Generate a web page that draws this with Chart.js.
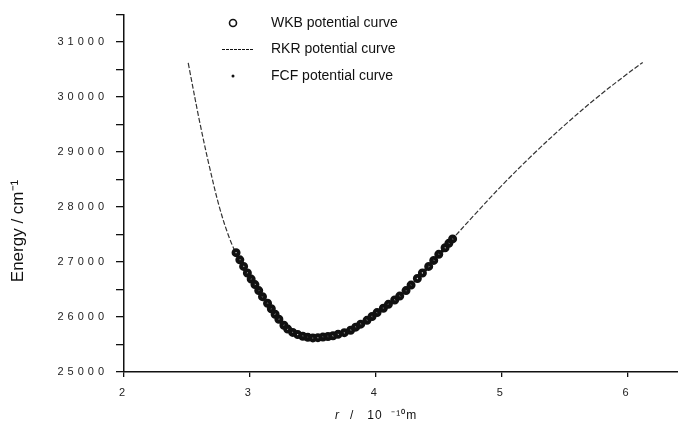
<!DOCTYPE html>
<html>
<head>
  <title>Potential curves</title>
  <style>
    body { margin: 0; background: #fff; }
    #wrap { width: 678px; height: 433px; }
  </style>
</head>
<body>
  <div id="wrap">
    <canvas id="chart" width="678" height="433"></canvas>
  </div>

  <script src="https://cdn.jsdelivr.net/npm/chart.js"></script>
  <script>
    // values (r in 1e-10 m, energy in cm-1)
    const rkrR = [2.51, 2.60, 2.68, 2.76, 2.84, 2.92, 3.01, 3.14, 3.27, 3.38, 3.50, 3.66, 3.80, 3.93,
                  4.06, 4.19, 4.33, 4.46, 4.61, 4.80, 5.00, 5.25, 5.50, 5.75, 5.99, 6.12];
    const rkrE = [30620, 29560, 28720, 27980, 27420, 27020, 26680, 26250, 25850, 25680, 25620, 25660, 25760, 25940,
                  26160, 26380, 26700, 27030, 27420, 27900, 28390, 28960, 29490, 29980, 30410, 30630];

    const wkbR = [2.89, 2.92, 2.95, 2.98, 3.01, 3.04, 3.07, 3.10, 3.14, 3.17, 3.20, 3.23, 3.27, 3.30, 3.34,
                  3.38, 3.42, 3.46, 3.50, 3.54, 3.58, 3.62, 3.66, 3.70, 3.75, 3.80, 3.84, 3.88, 3.93, 3.97,
                  4.01, 4.06, 4.10, 4.15, 4.19, 4.24, 4.28, 4.33, 4.37, 4.42, 4.46, 4.50, 4.55, 4.58, 4.61];
    const wkbE = [27170, 27040, 26920, 26800, 26690, 26590, 26480, 26370, 26250, 26150, 26050, 25960, 25850, 25780, 25720,
                  25680, 25650, 25630, 25620, 25625, 25635, 25645, 25660, 25685, 25715, 25760, 25815, 25870, 25940, 26010,
                  26080, 26160, 26230, 26310, 26380, 26480, 26580, 26700, 26800, 26920, 27030, 27140, 27260, 27340, 27420];

    const fcfR = [2.93, 3.00, 3.08, 3.16, 3.25, 3.36, 3.48, 3.60, 3.72, 3.86, 3.99, 4.12, 4.26, 4.40, 4.53];
    const fcfE = [27000, 26720, 26450, 26180, 25900, 25700, 25625, 25640, 25700, 25840, 26040, 26260, 26530, 26870, 27200];

    const xTickLabels = [2, 3, 4, 5, 6];
    const yTickLabels = [25000, 26000, 27000, 28000, 29000, 30000, 31000];
    const legendNames = ['WKB potential curve', 'RKR potential curve', 'FCF potential curve'];

    const FONT = '"Liberation Sans", Arial, sans-serif';

    function toPoints(xs, ys) {
      return xs.map((x, i) => ({ x: x, y: ys[i] }));
    }

    // tick labels in the figure are widely spaced; legend and titles drawn by hand
    const spacingPlugin = {
      id: 'spacing',
      beforeLayout(chart) { chart.ctx.letterSpacing = '4px'; },
      beforeDraw(chart) { chart.ctx.letterSpacing = '4px'; },
      afterDraw(chart) {
        const ctx = chart.ctx;
        ctx.save();
        ctx.letterSpacing = '0px';
        ctx.fillStyle = '#111';
        ctx.strokeStyle = '#111';
        ctx.textBaseline = 'middle';
        ctx.textAlign = 'left';
        ctx.font = '14px ' + FONT;

        // legend
        legendNames.forEach((name, i) => {
          const y = 23 + i * 26.5;
          if (i === 0) {
            ctx.lineWidth = 1.6;
            ctx.beginPath();
            ctx.arc(233, y, 3.5, 0, Math.PI * 2);
            ctx.stroke();
          } else if (i === 1) {
            ctx.lineWidth = 1.2;
            ctx.setLineDash([3, 1]);
            ctx.beginPath();
            ctx.moveTo(222, y);
            ctx.lineTo(254, y);
            ctx.stroke();
            ctx.setLineDash([]);
          } else {
            ctx.beginPath();
            ctx.arc(233, y, 1.5, 0, Math.PI * 2);
            ctx.fill();
          }
          ctx.fillText(name, 271, y);
        });

        // axis titles
        ctx.save();
        ctx.translate(18, 231);
        ctx.rotate(-Math.PI / 2);
        ctx.textAlign = 'center';
        ctx.font = '17px ' + FONT;
        ctx.fillText('Energy / cm\u207B\u00B9', 0, 0);
        ctx.restore();

        ctx.font = 'italic 12px ' + FONT;
        ctx.fillText('r', 335, 416);
        ctx.font = '12px ' + FONT;
        ctx.letterSpacing = '1px';
        ctx.fillText('/   10  \u207B\u00B9\u2070m', 350, 416);
        ctx.restore();
      }
    };

    new Chart(document.getElementById('chart'), {
      type: 'scatter',
      data: {
        datasets: [
          {
            label: legendNames[0],
            data: toPoints(wkbR, wkbE),
            pointStyle: 'circle',
            pointRadius: 2.6,
            pointBorderWidth: 3.8,
            pointBorderColor: '#111',
            pointBackgroundColor: 'rgba(0,0,0,0)',
            showLine: false
          },
          {
            label: legendNames[1],
            data: toPoints(rkrR, rkrE),
            showLine: true,
            tension: 0.35,
            borderColor: '#333',
            borderWidth: 1.2,
            borderDash: [5, 2],
            pointRadius: 0
          },
          {
            label: legendNames[2],
            data: toPoints(fcfR, fcfE),
            pointRadius: 1.8,
            pointBorderWidth: 0,
            pointBackgroundColor: '#000',
            showLine: false
          }
        ]
      },
      options: {
        responsive: false,
        animation: false,
        layout: { autoPadding: false, padding: { top: 14, left: 0, right: 0, bottom: 0 } },
        plugins: {
          legend: { display: false },
          tooltip: { enabled: false }
        },
        scales: {
          x: {
            type: 'linear',
            min: 2,
            max: 6.4,
            border: { color: '#111', width: 1.5 },
            grid: { drawOnChartArea: false, tickLength: 5, color: '#111', lineWidth: 1.3 },
            ticks: {
              stepSize: 1,
              includeBounds: false,
              padding: 9,
              color: '#222',
              font: { family: FONT, size: 11 },
              callback: v => xTickLabels.includes(v) ? String(v) : ''
            },
            afterFit: s => { s.height = 61; }
          },
          y: {
            min: 25000,
            max: 31500,
            border: { color: '#111', width: 1.5 },
            grid: { drawOnChartArea: false, tickLength: 8, color: '#111', lineWidth: 1.3 },
            ticks: {
              stepSize: 500,
              includeBounds: false,
              padding: 8,
              color: '#222',
              font: { family: FONT, size: 11 },
              callback: v => yTickLabels.includes(v) ? String(v) : ''
            },
            afterFit: s => { s.width = 124; }
          }
        }
      },
      plugins: [spacingPlugin]
    });
  </script>
</body>
</html>
